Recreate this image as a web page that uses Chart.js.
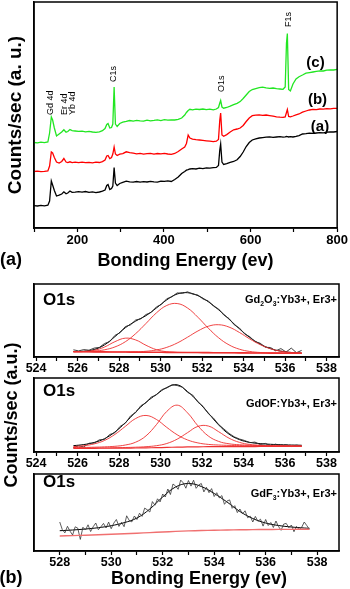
<!DOCTYPE html>
<html><head><meta charset="utf-8">
<script src="https://cdn.jsdelivr.net/npm/chart.js@4.4.0/dist/chart.umd.min.js"></script>
<style>
html,body{margin:0;padding:0;background:#fff;}
body{width:350px;height:589px;position:relative;overflow:hidden;}
canvas{position:absolute;left:0;}
</style></head><body>
<canvas id="cA" style="top:0px" width="350" height="275"></canvas>
<canvas id="cB1" style="top:280px" width="350" height="100"></canvas>
<canvas id="cB2" style="top:330px" width="350" height="160"></canvas>
<canvas id="cB3" style="top:470px" width="350" height="119"></canvas>
<script>
// ================= DATA =================
// (a) XPS survey spectra, binding energy (eV) and counts (a.u., offset curves)
const surveyEnergy = [100,108,116,124,132,136,140,143,147,152,
 158,164,169,174,178,183,188,195,203,211,
 219,227,235,243,251,258,264,268,271,275,
 279,282,285,288,292,298,305,313,321,329,
 337,345,353,361,369,377,385,393,401,409,
 417,425,433,441,448,452,456,460,466,474,
 482,490,498,506,514,521,526,529,531,534,
 538,545,553,561,569,576,583,590,597,604,
 612,620,628,636,644,652,660,668,675,680,
 683,685,688,692,698,705,712,720,728,736,
 744,752,760,768,776,784,792,800];
const surveyA = [22.3,22.0,22.6,22.2,22.8,27.0,47.0,43.0,37.5,32.0,
 32.8,34.0,36.2,34.2,35.0,37.0,35.6,35.8,36.4,35.9,
 36.5,35.7,36.1,35.4,36.0,36.8,38.0,42.5,43.5,38.5,
 39.5,42.0,60.5,45.0,42.5,44.5,45.6,46.8,46.2,45.8,
 46.5,45.9,46.4,46.0,46.7,46.2,45.8,46.9,46.6,47.2,
 46.5,48.5,51.0,54.5,56.5,57.8,58.3,59.0,59.3,59.0,
 59.8,59.4,60.1,59.8,60.4,60.6,62.5,78.0,84.0,66.0,
 63.5,64.3,65.6,66.5,68.2,71.5,76.0,81.5,85.5,88.0,
 89.2,90.0,90.4,90.8,91.2,90.6,91.0,91.4,90.9,91.2,
 91.5,91.3,91.0,91.3,91.0,91.6,92.4,94.0,94.3,94.8,
 94.6,95.0,95.4,95.2,95.8,96.1,96.0,96.5];
const surveyB = [56.5,56.8,56.3,56.6,57.0,62.0,76.0,75.0,70.5,66.0,
 65.0,66.5,69.5,66.0,65.5,66.2,65.4,65.8,65.3,65.9,
 65.4,65.7,65.2,65.8,65.5,66.4,68.0,72.0,72.5,69.5,
 70.5,74.0,81.0,74.0,72.5,73.8,74.4,76.2,75.4,74.8,
 74.2,74.6,73.9,74.3,74.7,73.8,74.5,74.1,74.6,74.0,
 73.7,74.5,76.5,79.0,81.0,84.5,93.0,90.0,88.8,88.3,
 88.0,87.6,87.2,86.8,86.4,86.8,88.5,108.0,115.0,93.0,
 91.8,93.4,96.0,98.2,99.0,100.0,102.5,106.5,110.0,112.3,
 112.8,113.2,112.6,113.0,112.4,111.8,111.2,110.8,110.6,111.0,
 115.5,118.5,111.5,111.2,112.0,113.2,114.0,115.8,117.0,118.0,
 118.6,118.4,119.0,118.8,119.3,119.1,119.6,119.7];
const surveyC = [85.5,85.2,85.8,85.4,86.0,95.0,111.0,108.0,100.0,92.0,
 94.0,96.0,98.3,95.8,96.5,98.5,97.4,97.0,96.6,96.9,
 96.2,96.7,96.0,95.7,96.2,97.3,99.5,103.5,104.5,100.0,
 100.5,104.0,141.0,104.0,101.5,104.5,105.8,106.6,107.5,106.9,
 107.6,107.1,106.8,107.9,107.2,107.6,108.1,107.4,108.3,107.8,
 108.2,108.0,108.6,110.0,113.0,115.5,117.5,118.7,118.2,118.9,
 118.5,119.0,118.4,118.8,118.1,119.0,120.5,125.0,127.5,121.0,
 119.8,120.5,121.8,123.3,124.6,126.4,129.5,133.0,136.5,138.5,
 139.4,140.3,140.8,140.1,139.6,140.0,139.4,139.0,138.7,141.0,
 185.0,194.5,138.5,137.0,144.0,149.0,151.3,153.0,154.8,155.4,
 156.0,156.6,157.2,157.0,157.8,158.2,158.0,158.7];
const surveyTickValues = [100,200,300,400,500,600,700,800];
const surveyTickLabels = [200,400,600,800];
const surveyPeaks = ['Gd 4d','Er 4d','Yb 4d','C1s','O1s','F1s'];
const surveyPeakEnergy = [139,170,190,284,532,688.5];
const surveyCurveLabels = ['(c)','(b)','(a)'];

// (b) O1s high-resolution spectra
const o1sTickValues = [524,525,526,527,528,529,530,531,532,533,534,535,536,537,538];
const o1sTickLabels = [524,526,528,530,532,534,536,538];
const o1sTickValues3 = [528,529,530,531,532,533,534,535,536,537,538];
const o1sTickLabels3 = [528,530,532,534,536,538];

// Gd2O3:Yb3+, Er3+
const fitE1 = [525.8,526.3,526.8,527.3,527.8,528.3,528.8,529.3,529.8,530.3,530.8,531.3,531.8,532.3,532.8,533.3,533.8,534.3,534.8,535.3,535.8,536.3,536.8];
const base1 = [5.30,5.23,5.15,5.08,5.01,4.94,4.86,4.79,4.72,4.65,4.57,4.50,4.43,4.36,4.28,4.21,4.14,4.06,3.99,3.92,3.85,3.77,3.70];
const peak1a = [5.34,5.54,6.67,9.98,15.31,18.84,17.06,11.69,7.32,5.26,4.67,4.50,4.43,4.36,4.28,4.21,4.14,4.06,3.99,3.92,3.85,3.77,3.70];
const peak1b = [5.37,5.49,5.95,7.23,10.06,15.24,23.36,33.59,44.12,51.55,53.47,49.0,39.73,28.86,19.18,12.11,7.79,5.54,4.51,4.08,3.89,3.78,3.70];
const peak1c = [5.30,5.23,5.15,5.08,5.01,5.03,5.18,5.71,7.02,9.65,13.97,19.8,26.03,30.76,32.28,29.91,24.54,18.06,12.39,8.22,5.79,4.52,3.95];
const fit1 = [5.41,5.80,7.47,12.13,20.36,29.23,35.88,41.41,49.02,57.16,62.97,64.3,61.33,55.26,47.18,37.81,28.19,19.54,12.91,8.38,5.83,4.53,3.95];
const rawE1 = [525.80,526.05,526.30,526.55,526.80,527.05,527.30,527.55,527.80,528.05,528.30,528.55,528.80,529.05,529.30,529.55,529.80,530.05,530.30,530.55,530.80,531.05,531.30,531.55,531.80,532.05,532.30,532.55,532.80,533.05,533.30,533.55,533.80,534.05,534.30,534.55,534.80,535.05,535.30,535.55,535.80,536.05,536.30,536.55,536.80];
const raw1 = [7.2,6.1,7.4,6.8,8.9,9.6,13.5,15.4,21.6,24.3,30.4,32.1,37.0,38.2,42.5,44.6,50.1,52.7,58.3,60.2,64.1,63.6,65.2,62.8,62.0,57.9,56.1,50.8,48.0,41.9,38.5,32.2,29.0,23.1,20.3,15.4,13.8,9.7,9.5,6.2,8.4,5.0,8.9,4.3,6.6];

// GdOF:Yb3+, Er3+
const fitE2 = fitE1;
const base2 = [3.7,3.7,3.72,3.75,3.8,3.88,4.0,4.15,4.35,4.6,4.85,5.05,5.2,5.3,5.38,5.42,5.45,5.47,5.48,5.5,5.5,5.5,5.5];
const peak2a = [5.4,6.3,8.12,11.55,17.6,25.58,33.5,36.55,32.55,24.6,17.25,12.05,9.1,7.6,6.98,6.62,6.4,6.25,6.14,6.06,5.98,5.92,5.87];
const peak2b = [4.4,4.57,4.8,5.15,5.7,6.98,9.8,16.15,27.35,40.6,46.85,39.15,26.2,16.0,10.58,8.22,7.25,6.8,6.52,6.34,6.19,6.07,5.98];
const peak2c = [3.93,3.97,4.04,4.14,4.28,4.49,4.79,5.31,6.31,8.5,12.85,19.35,25.6,26.0,20.28,13.82,9.65,7.52,6.68,6.31,6.12,5.99,5.9];
const fit2 = [6.33,7.44,9.52,13.34,19.98,29.29,40.09,49.71,57.51,64.5,67.25,60.45,50.5,39.0,27.08,17.82,12.4,9.63,8.38,7.71,7.29,6.98,6.75];
const rawE2 = rawE1;
const raw2 = [4.5,6.2,5.1,8.8,8.9,12.2,12.6,17.5,19.3,25.6,28.7,36.0,39.4,46.3,49.2,55.0,57.1,62.3,64.0,67.2,66.5,64.8,59.6,56.9,49.8,45.6,38.4,33.9,27.5,23.1,18.6,15.2,13.0,11.5,9.3,9.9,7.4,8.6,6.3,7.9,5.8,7.2,5.5,6.9,6.0];

// GdF3:Yb3+, Er3+
const fitE3 = [528.0,528.5,529.0,529.5,530.0,530.5,531.0,531.5,532.0,532.5,533.0,533.5,534.0,534.5,535.0,535.5,536.0,536.5,537.0,537.5,537.7];
const fit3 = [20.3,21.0,22.0,23.3,25.3,28.3,33.0,42.0,54.0,64.0,67.5,64.5,57.5,49.0,39.5,32.5,28.0,25.5,24.0,23.0,22.7];
const base3 = [15.0,15.4,15.8,16.2,16.7,17.2,17.8,18.4,19.0,19.6,20.1,20.5,20.8,21.0,21.2,21.35,21.5,21.6,21.65,21.7,21.7];
const rawE3 = [528.0,528.1,528.2,528.3,528.4,528.5,528.6,528.7,528.8,528.9,
 529.0,529.1,529.2,529.3,529.4,529.5,529.6,529.7,529.8,529.9,
 530.0,530.1,530.2,530.3,530.4,530.5,530.6,530.7,530.8,530.9,
 531.0,531.1,531.2,531.3,531.4,531.5,531.6,531.7,531.8,531.9,
 532.0,532.1,532.2,532.3,532.4,532.5,532.6,532.7,532.8,532.9,
 533.0,533.1,533.2,533.3,533.4,533.5,533.6,533.7,533.8,533.9,
 534.0,534.1,534.2,534.3,534.4,534.5,534.6,534.7,534.8,534.9,
 535.0,535.1,535.2,535.3,535.4,535.5,535.6,535.7,535.8,535.9,
 536.0,536.1,536.2,536.3,536.4,536.5,536.6,536.7,536.8,536.9,
 537.0,537.1,537.2,537.3,537.4,537.5,537.6,537.7];
const raw3 = [29.0,21.4,18.1,24.7,19.8,16.0,24.2,22.9,11.6,23.8,
 21.0,26.2,19.5,24.3,28.0,21.3,24.2,27.6,23.0,28.9,
 22.3,27.9,31.5,24.6,28.7,24.3,35.2,30.6,29.1,35.0,
 31.5,37.8,34.6,42.9,41.2,39.0,49.4,45.8,52.2,49.1,
 57.0,54.0,62.0,56.5,67.0,65.0,61.7,70.9,68.1,62.8,
 70.5,64.9,70.8,62.7,66.1,67.5,59.1,63.7,58.3,62.4,
 54.5,58.3,53.1,55.4,46.7,50.0,51.1,42.7,45.3,38.4,
 42.0,37.1,40.2,33.3,34.9,29.0,34.6,29.7,31.8,24.9,
 31.5,25.5,28.5,23.5,30.0,24.5,20.7,26.9,27.6,23.3,
 26.0,19.3,24.6,21.4,23.7,29.0,25.4,21.7];

// ================= HELPERS =================
const FONT = "'Liberation Sans', Arial, Helvetica, sans-serif";
const pts = (xs, ys) => xs.map((x, i) => ({x: x, y: ys[i]}));
function line(xs, ys, color, width, tension) {
  return {data: pts(xs, ys), borderColor: color, borderWidth: width, pointRadius: 0, tension: tension || 0, fill: false};
}
const framePlugin = {
  id: 'frame',
  afterDatasetsDraw(chart) {
    const {ctx, chartArea: a} = chart;
    ctx.save(); ctx.strokeStyle = '#000'; ctx.lineWidth = 1.5;
    ctx.strokeRect(a.left, a.top, a.right - a.left, a.bottom - a.top);
    ctx.restore();
  }
};
// items: {text | parts, x (page px) or xv (data), y (page px), font, align, rot}
function textPlugin(items, top) {
  return {
    id: 'texts',
    afterDraw(chart) {
      const ctx = chart.ctx;
      items.forEach(it => {
        const x = it.xv !== undefined ? chart.scales.x.getPixelForValue(it.xv) : it.x;
        const y = it.y - top;
        ctx.save();
        ctx.fillStyle = '#000';
        ctx.textBaseline = 'middle';
        ctx.translate(x, y);
        if (it.rot) ctx.rotate(-Math.PI / 2);
        if (it.parts) {
          const size = it.size;
          let w = 0;
          it.parts.forEach(p => { ctx.font = 'bold ' + (p.sub ? size * 0.62 : size) + 'px ' + FONT; w += ctx.measureText(p.t).width; });
          let cx = it.align === 'right' ? -w : 0;
          ctx.textAlign = 'left';
          it.parts.forEach(p => {
            ctx.font = 'bold ' + (p.sub ? size * 0.62 : size) + 'px ' + FONT;
            ctx.fillText(p.t, cx, p.sub ? size * 0.38 : 0);
            cx += ctx.measureText(p.t).width;
          });
        } else {
          ctx.font = it.font;
          ctx.textAlign = it.align || 'center';
          ctx.fillText(it.text, 0, 0);
        }
        ctx.restore();
      });
    }
  };
}
const baseOpts = {
  responsive: false, animation: false, devicePixelRatio: 1, events: [],
  plugins: {legend: {display: false}, tooltip: {enabled: false}}
};
function xAxis(min, max, tickVals, tickLabels, height, title) {
  return {
    type: 'linear', min: min, max: max,
    afterBuildTicks: s => { s.ticks = tickVals.map(v => ({value: v})); },
    ticks: {font: {family: FONT, size: 12.5, weight: 'bold', lineHeight: 1}, color: '#000', padding: 1.5,
      maxRotation: 0, autoSkip: false, includeBounds: false,
      callback: v => tickLabels.includes(v) ? String(v) : ''},
    grid: {display: true, drawOnChartArea: false, drawTicks: true, tickLength: 4, tickColor: '#000', tickWidth: 1.2},
    border: {display: true, color: '#000', width: 1.5},
    title: title || {display: false},
    afterFit: s => { s.height = height; }
  };
}
function yAxis(min, max, title) {
  return {
    min: min, max: max,
    ticks: {display: false}, grid: {display: false},
    border: {display: true, color: '#000', width: 1.5},
    title: title || {display: false},
    afterFit: s => { s.width = 34; }
  };
}

// ================= (a) SURVEY =================
const pkFont = '9px ' + FONT;
const labFont = 'bold 15px ' + FONT;
new Chart(document.getElementById('cA'), {
  type: 'line',
  data: {datasets: [
    line(surveyEnergy, surveyA, '#000000', 1.3),
    line(surveyEnergy, surveyB, '#ff0000', 1.3),
    line(surveyEnergy, surveyC, '#22e622', 1.3)
  ]},
  options: Object.assign({}, baseOpts, {
    layout: {padding: {left: 0, right: 11, top: 2, bottom: 0}},
    scales: {
      x: Object.assign(xAxis(100, 800, surveyTickValues, surveyTickLabels, 47,
        {display: true, text: 'Bonding Energy (ev)', font: {family: FONT, size: 18, weight: 'bold'}, color: '#000', padding: {top: 0, bottom: 3}}),
        {ticks: {font: {family: FONT, size: 13, weight: 'bold', lineHeight: 1}, color: '#000', padding: 2, maxRotation: 0, autoSkip: false,
          callback: v => surveyTickLabels.includes(v) ? String(v) : ''}}),
      y: yAxis(0, 226, {display: true, text: 'Counts/sec (a. u.)', font: {family: FONT, size: 19, weight: 'bold'}, color: '#000', padding: {top: 4, bottom: 0}})
    }
  }),
  plugins: [framePlugin, textPlugin([
    {text: '(a)', x: 11, y: 260, font: 'bold 18px ' + FONT},
    {text: surveyCurveLabels[0], x: 315.5, y: 62.5, font: labFont},
    {text: surveyCurveLabels[1], x: 317.5, y: 99.5, font: labFont},
    {text: surveyCurveLabels[2], x: 320, y: 126.5, font: labFont},
    {text: surveyPeaks[0], xv: surveyPeakEnergy[0], y: 115, font: pkFont, rot: true, align: 'left'},
    {text: surveyPeaks[1], xv: surveyPeakEnergy[1], y: 115, font: pkFont, rot: true, align: 'left'},
    {text: surveyPeaks[2], xv: surveyPeakEnergy[2], y: 115, font: pkFont, rot: true, align: 'left'},
    {text: surveyPeaks[3], xv: surveyPeakEnergy[3], y: 82, font: pkFont, rot: true, align: 'left'},
    {text: surveyPeaks[4], xv: surveyPeakEnergy[4], y: 92, font: pkFont, rot: true, align: 'left'},
    {text: surveyPeaks[5], xv: surveyPeakEnergy[5], y: 27, font: pkFont, rot: true, align: 'left'}
  ], 0)]
});

// ================= (b) O1s panels =================
const RAW = '#2b2b2b', FIT = '#000000', CMP = '#ee3030';
const o1sFont = 'bold 17px ' + FONT;

new Chart(document.getElementById('cB1'), {
  type: 'line',
  data: {datasets: [
    line(fitE1, base1, CMP, 1.6, 0.4),
    line(fitE1, peak1a, CMP, 0.9, 0.4),
    line(fitE1, peak1b, CMP, 0.9, 0.4),
    line(fitE1, peak1c, CMP, 0.9, 0.4),
    line(rawE1, raw1, RAW, 0.9, 0),
    line(fitE1, fit1, FIT, 1.0, 0.4)
  ]},
  options: Object.assign({}, baseOpts, {
    layout: {padding: {left: 0, right: 11, top: 4, bottom: 0}},
    scales: {x: xAxis(523.9, 538.6, o1sTickValues, o1sTickLabels, 23), y: yAxis(0, 73)}
  }),
  plugins: [framePlugin, textPlugin([
    {text: 'O1s', x: 43, y: 300, font: o1sFont, align: 'left'},
    {parts: [{t: 'Gd'}, {t: '2', sub: true}, {t: 'O'}, {t: '3', sub: true}, {t: ':Yb3+, Er3+'}], size: 11, x: 337, y: 300, align: 'right'}
  ], 280)]
});

new Chart(document.getElementById('cB2'), {
  type: 'line',
  data: {datasets: [
    line(fitE2, base2, CMP, 1.2, 0.4),
    line(fitE2, peak2a, CMP, 0.9, 0.4),
    line(fitE2, peak2b, CMP, 0.9, 0.4),
    line(fitE2, peak2c, CMP, 0.9, 0.4),
    line(rawE2, raw2, RAW, 0.9, 0),
    line(fitE2, fit2, FIT, 1.0, 0.4)
  ]},
  options: Object.assign({}, baseOpts, {
    layout: {padding: {left: 0, right: 11, top: 48, bottom: 0}},
    scales: {x: xAxis(523.9, 538.6, o1sTickValues, o1sTickLabels, 38),
      y: yAxis(0, 74, {display: true, text: 'Counts/sec (a.u.)', font: {family: FONT, size: 18, weight: 'bold'}, color: '#000', padding: {top: 1, bottom: 0}})}
  }),
  plugins: [framePlugin, textPlugin([
    {text: 'O1s', x: 43, y: 391.5, font: o1sFont, align: 'left'},
    {parts: [{t: 'GdOF:Yb3+, Er3+'}], size: 11, x: 337, y: 404, align: 'right'}
  ], 330)]
});

new Chart(document.getElementById('cB3'), {
  type: 'line',
  data: {datasets: [
    line(fitE3, base3, '#f07070', 1.4, 0.4),
    line(rawE3, raw3, '#333333', 0.8, 0),
    line(fitE3, fit3, FIT, 1.0, 0.4)
  ]},
  options: Object.assign({}, baseOpts, {
    layout: {padding: {left: 0, right: 11, top: 4, bottom: 0}},
    scales: {x: xAxis(527.0, 538.85, o1sTickValues3, o1sTickLabels3, 38), y: yAxis(0, 77)}
  }),
  plugins: [framePlugin, textPlugin([
    {text: 'O1s', x: 43, y: 482.5, font: o1sFont, align: 'left'},
    {parts: [{t: 'GdF'}, {t: '3', sub: true}, {t: ':Yb3+, Er3+'}], size: 11, x: 337, y: 494, align: 'right'},
    {text: '(b)', x: 11, y: 578.5, font: 'bold 18px ' + FONT},
    {text: 'Bonding Energy (ev)', x: 199, y: 579, font: 'bold 18px ' + FONT}
  ], 470)]
});
</script>
</body></html>
